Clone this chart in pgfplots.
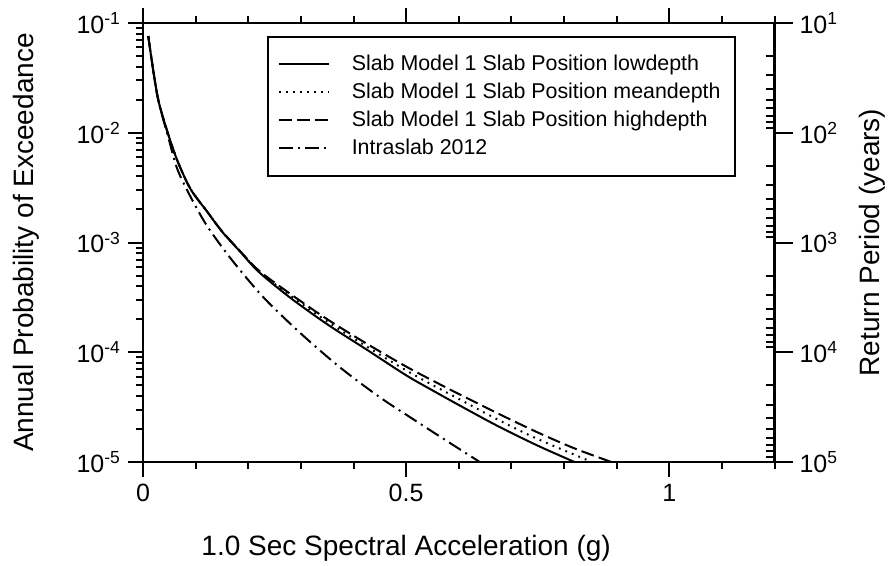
\documentclass[border=0pt]{standalone}
\usepackage{fontspec}
\setmainfont{Liberation Sans}
\setsansfont{Liberation Sans}
\usepackage{pgfplots}
\usepackage{pgfplotstable}
\pgfplotsset{compat=1.18}

% hazard curves
\pgfplotstableread{
x p
0.010 0.0760
0.020 0.0355
0.030 0.0190
0.047 0.0100
0.065 0.00562
0.090 0.00309
0.122 0.00191
0.150 0.00126
0.184 0.000832
0.220 0.000540
0.279 0.000316
0.350 0.000180
0.426 0.000105
0.500 6.17e-5
0.551 4.47e-5
0.600 3.31e-5
0.673 2.14e-5
0.750 1.41e-5
0.820 1.00e-5
}\lowdepth

\pgfplotstableread{
x p
0.010 0.0760
0.020 0.0355
0.030 0.0190
0.047 0.0100
0.065 0.00562
0.090 0.00309
0.122 0.00191
0.150 0.00126
0.184 0.000835
0.220 0.000547
0.279 0.000331
0.350 0.000191
0.426 0.000112
0.500 6.84e-5
0.551 5.01e-5
0.600 3.76e-5
0.673 2.45e-5
0.750 1.62e-5
0.853 1.00e-5
}\meandepth

\pgfplotstableread{
x p
0.010 0.0760
0.020 0.0355
0.030 0.0190
0.047 0.0100
0.065 0.00562
0.090 0.00309
0.122 0.00191
0.150 0.00127
0.184 0.000841
0.220 0.000556
0.279 0.000343
0.350 0.000200
0.426 0.000119
0.500 7.41e-5
0.551 5.50e-5
0.600 4.17e-5
0.673 2.79e-5
0.750 1.86e-5
0.820 1.33e-5
0.890 1.00e-5
}\highdepth

\pgfplotstableread{
x p
0.010 0.0760
0.020 0.0355
0.030 0.0188
0.047 0.00950
0.065 0.00470
0.090 0.00263
0.122 0.00141
0.169 0.000692
0.229 0.000316
0.300 0.000148
0.375 7.24e-5
0.450 3.89e-5
0.507 2.57e-5
0.575 1.58e-5
0.640 1.00e-5
}\intraslab

\begin{document}
\begin{tikzpicture}
\path[use as bounding box] (-71.5pt,-52pt) rectangle (375.5pt,231pt);

\begin{axis}[
    at={(0,0)}, anchor=south west,
    scale only axis,
    width=315.75pt, height=219.5pt,
    xmin=0, xmax=1.2,
    ymin=1e-5, ymax=1e-1,
    ymode=log,
    xtick={0,0.5,1},
    xticklabels={0,0.5,1},
    minor xtick={0.1,0.2,0.3,0.4,0.6,0.7,0.8,0.9,1.1,1.2},
    ytick={1e-5,1e-4,1e-3,1e-2,1e-1},
    yticklabels={10\textsuperscript{-5},10\textsuperscript{-4},10\textsuperscript{-3},10\textsuperscript{-2},10\textsuperscript{-1}},
    minor ytick={2e-5,3e-5,4e-5,5e-5,6e-5,7e-5,8e-5,9e-5,
                 2e-4,3e-4,4e-4,5e-4,6e-4,7e-4,8e-4,9e-4,
                 2e-3,3e-3,4e-3,5e-3,6e-3,7e-3,8e-3,9e-3,
                 2e-2,3e-2,4e-2,5e-2,6e-2,7e-2,8e-2,9e-2},
    xtick pos=both,
    ytick pos=left,
    tick align=outside,
    major tick length=7.5pt,
    minor tick length=3.3pt,
    axis line style={line width=1.2pt},
    tick style={line width=1pt, black},
    tick label style={font=\fontsize{12.5}{14}\selectfont},
    label style={font=\fontsize{14}{16}\selectfont},
    xlabel={1.0 Sec Spectral Acceleration (g)},
    xlabel style={at={(axis description cs:0.4167,-0.196)}, anchor=center},
    ylabel={Annual Probability of Exceedance},
    ylabel style={at={(axis description cs:-0.185,0.5)}, anchor=center, rotate=0},
    legend style={
        at={(axis description cs:0.196,0.970)}, anchor=north west,
        draw=black, line width=1pt,
        font=\fontsize{10.7}{13}\selectfont,
        inner xsep=5pt, inner ysep=7pt,
        row sep=0.75pt,
        /tikz/every odd column/.append style={column sep=9pt},
    },
    legend cell align=left,
    legend image code/.code={\draw[#1] (0pt,0pt) -- (25pt,0pt);},
]
\addplot[black, line width=1pt, smooth] table[x=x, y=p] {\lowdepth};
\addlegendentry{Slab Model 1 Slab Position lowdepth}
\addplot[black, line width=1pt, smooth, dash pattern=on 0.9pt off 2.6pt] table[x=x, y=p] {\meandepth};
\addlegendentry{Slab Model 1 Slab Position meandepth}
\addplot[black, line width=1pt, smooth, dash pattern=on 6.5pt off 2.6pt] table[x=x, y=p] {\highdepth};
\addlegendentry{Slab Model 1 Slab Position highdepth}
\addplot[black, line width=1pt, smooth, dash pattern=on 7pt off 2.6pt on 1pt off 2.6pt] table[x=x, y=p] {\intraslab};
\addlegendentry{Intraslab 2012}
\end{axis}

% right axis: return period
\begin{axis}[
    at={(0,0)}, anchor=south west,
    scale only axis,
    width=315.75pt, height=219.5pt,
    xmin=0, xmax=1.2,
    ymin=10, ymax=1e5,
    ymode=log,
    y dir=reverse,
    axis x line=none,
    axis y line*=right,
    ytick={10,100,1000,1e4,1e5},
    yticklabels={10\textsuperscript{1},10\textsuperscript{2},10\textsuperscript{3},10\textsuperscript{4},10\textsuperscript{5}},
    minor ytick={20,30,40,50,60,70,80,90,
                 200,300,400,500,600,700,800,900,
                 2000,3000,4000,5000,6000,7000,8000,9000,
                 20000,30000,40000,50000,60000,70000,80000,90000},
    tick align=outside,
    major tick length=9pt,
    minor tick length=-4.5pt,
    axis line style={line width=1.2pt},
    tick style={line width=1pt, black},
    tick label style={font=\fontsize{12.5}{14}\selectfont},
    label style={font=\fontsize{14}{16}\selectfont},
    ylabel={Return Period (years)},
    ylabel style={at={(axis description cs:1.154,0.5)}, anchor=center, rotate=0},
]
\end{axis}
\end{tikzpicture}
\end{document}
